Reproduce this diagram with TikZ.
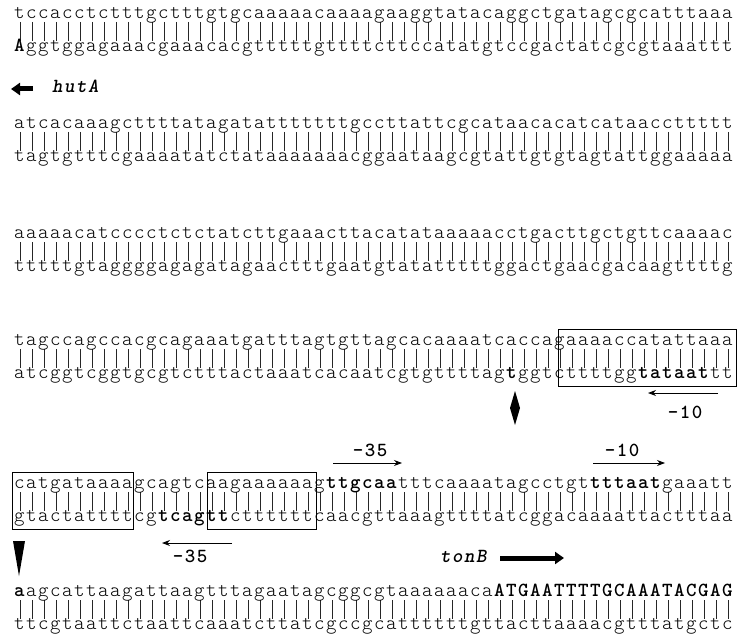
\documentclass[tikz,border=0pt]{standalone}
\usepackage{fontspec}
\setmonofont{lmmonolt10-regular.otf}[
    BoldFont       = lmmonolt10-bold.otf,
    ItalicFont     = lmmonolt10-oblique.otf,
    BoldItalicFont = lmmonolt10-boldoblique.otf,
    LetterSpace    = 7.5]
\usetikzlibrary{arrows.meta}
\tikzset{
    operon diagram/.style = {x=1pt, y=-1pt,
                             >={Stealth[length=8pt, width=6pt]}},
    strand/.style      = {anchor=base west, inner sep=0pt,
                          font=\ttfamily\fontsize{20}{20}\selectfont},
    pairing/.style     = {line width=0.7pt, black!85},
    site box/.style    = {draw, line width=0.8pt},
    site arrow/.style  = {->, line width=0.9pt},
    site label/.style  = {inner sep=0pt,
                          font=\ttfamily\bfseries\fontsize{20}{20}\selectfont},
    gene label/.style  = {anchor=base west, inner sep=0pt,
                          font=\ttfamily\bfseries\itshape\fontsize{20}{20}\selectfont},
    gene arrow/.style  = {-{Triangle[length=9pt, width=12pt]}, line width=5pt}
}

\begin{document}
\begin{tikzpicture}[operon diagram]
\useasboundingbox (0,0) rectangle (741,639);

% Pairing bars, one per base in every row
\foreach \y in {14,124,234,341,484,592}
    \foreach \i in {1,...,60}
        \draw[pairing] (8+12*\i,\y+8) -- (8+12*\i,\y+27);

% Row 1 and the hutA start
\node[strand] (top1) at (14,18.5) {tccacctctttgctttgtgcaaaaacaaaagaaggtatacaggctgatagcgcatttaaa};
\node[strand] (bot1) at (14,51.5) {\textbf{A}ggtggagaaacgaaacacgtttttgttttcttccatatgtccgactatcgcgtaaattt};
\coordinate (hut tail) at (33,89);
\coordinate (hut head) at (11,89);
\draw[gene arrow] (hut tail) -- (hut head);
\node[gene label] (hut) at (52,93) {hutA};

% Rows 2 and 3
\node[strand] (top2) at (14,128.5) {atcacaaagcttttatagatatttttttgccttattcgcataacacatcataaccttttt};
\node[strand] (bot2) at (14,161.5) {tagtgtttcgaaaatatctataaaaaaacggaataagcgtattgtgtagtattggaaaaa};
\node[strand] (top3) at (14,238.5) {aaaaacatcccctctctatcttgaaacttacatataaaaacctgacttgctgttcaaaac};
\node[strand] (bot3) at (14,271.5) {tttttgtaggggagagatagaactttgaatgtatatttttggactgaacgacaagttttg};

% Row 4: hutA -10 box and the cut site
\node[strand] (top4) at (14,345.5) {tagccagccacgcagaaatgatttagtgttagcacaaaatcaccagaaaaccatattaaa};
\node[strand] (bot4) at (14,378.5) {atcggtcggtgcgtctttactaaatcacaatcgtgttttag\textbf{t}ggtcttttgg\textbf{tataat}tt};
\draw[site box] (558,329) rectangle (736,386);
\coordinate (hut10 tail) at (718,393);
\coordinate (hut10 head) at (648,393);
\draw[site arrow] (hut10 tail) -- (hut10 head);
\node[site label] (hut10) at (685,412) {–10};
\fill (515,391) -- (520,408) -- (515,425) -- (510,408) -- cycle;

% Row 5: hutA -35, tonB -35 and -10
\node[site label] (ton35) at (370,450) {–35};
\node[site label] (ton10) at (622,450) {–10};
\coordinate (ton35 tail) at (333,463);
\coordinate (ton35 head) at (402,463);
\coordinate (ton10 tail) at (593,463);
\coordinate (ton10 head) at (665,463);
\draw[site arrow] (ton35 tail) -- (ton35 head);
\draw[site arrow] (ton10 tail) -- (ton10 head);
\node[strand] (top5) at (14,488.5) {catgataaaagcagtcaagaaaaaag\textbf{ttgcaa}tttcaaaatagcctgt\textbf{tttaat}gaaatt};
\node[strand] (bot5) at (14,521.5) {gtactattttcg\textbf{tcagtt}cttttttcaacgttaaagttttatcggacaaaattactttaa};
\draw[site box] (12,472) rectangle (133,529);
\draw[site box] (207,472) rectangle (316,529);
\coordinate (hut35 tail) at (232,543);
\coordinate (hut35 head) at (162,543);
\draw[site arrow] (hut35 tail) -- (hut35 head);
\node[site label] (hut35) at (190,556) {–35};
\fill (13,541) -- (25,541) -- (19,576) -- cycle;

% tonB start
\node[gene label] (ton) at (440,562) {tonB};
\coordinate (ton tail) at (500,558);
\coordinate (ton head) at (564,558);
\draw[gene arrow] (ton tail) -- (ton head);

% Row 6
\node[strand] (top6) at (14,596.5) {\textbf{a}agcattaagattaagtttagaatagcggcgtaaaaaaca\textbf{ATGAATTTTGCAAATACGAG}};
\node[strand] (bot6) at (14,629.5) {ttcgtaattctaattcaaatcttatcgccgcattttttgttacttaaaacgtttatgctc};

\end{tikzpicture}
\end{document}
